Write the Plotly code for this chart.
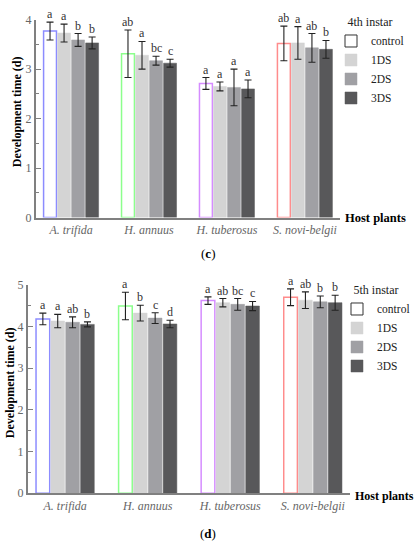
import plotly.graph_objects as go

hosts = ["A. trifida", "H. annuus", "H. tuberosus", "S. novi-belgii"]
treatments = ["control", "1DS", "2DS", "3DS"]

# (c) 4th instar
c_means = {
    "control": [3.77, 3.31, 2.71, 3.52],
    "1DS": [3.73, 3.28, 2.65, 3.53],
    "2DS": [3.59, 3.17, 2.63, 3.43],
    "3DS": [3.53, 3.12, 2.60, 3.40],
}
c_errs = {
    "control": [0.18, 0.48, 0.12, 0.35],
    "1DS": [0.18, 0.28, 0.09, 0.33],
    "2DS": [0.13, 0.09, 0.37, 0.29],
    "3DS": [0.12, 0.08, 0.18, 0.18],
}
c_letters = {
    "control": ["a", "ab", "a", "ab"],
    "1DS": ["a", "a", "a", "a"],
    "2DS": ["b", "bc", "a", "ab"],
    "3DS": ["b", "c", "a", "b"],
}

# (d) 5th instar
d_means = {
    "control": [4.18, 4.49, 4.62, 4.70],
    "1DS": [4.13, 4.32, 4.57, 4.63],
    "2DS": [4.10, 4.20, 4.53, 4.59],
    "3DS": [4.05, 4.06, 4.49, 4.57],
}
d_errs = {
    "control": [0.14, 0.33, 0.09, 0.20],
    "1DS": [0.16, 0.19, 0.10, 0.20],
    "2DS": [0.13, 0.13, 0.14, 0.14],
    "3DS": [0.06, 0.09, 0.11, 0.18],
}
d_letters = {
    "control": ["a", "a", "a", "a"],
    "1DS": ["a", "b", "ab", "ab"],
    "2DS": ["ab", "c", "bc", "b"],
    "3DS": ["b", "d", "c", "b"],
}

fills = {"control": "white", "1DS": "#d4d4d4", "2DS": "#a0a0a4", "3DS": "#58585a"}
control_outline = ["#8c8cff", "#8cff8c", "#d58cff", "#ff8c8c"]
SERIF = "Liberation Serif"
GRAY = "#808080"
BARGAP = 0.28
GROUPGAP = 0.08

fig = go.Figure()
xs = list(range(len(hosts)))

def add_panel(means, errs, letters, xa, ya, legend):
    for k, t in enumerate(treatments):
        if t == "control":
            line = dict(color=control_outline, width=1.5)
        else:
            line = dict(color=fills[t], width=0.5)
        fig.add_trace(go.Bar(
            x=xs, y=means[t], name=t, xaxis=xa, yaxis=ya, legend=legend,
            offsetgroup=t,
            marker=dict(color=fills[t], line=line),
            error_y=dict(type="data", array=errs[t], color="#222222",
                         thickness=1.1, width=3.5),
            showlegend=(t != "control"),
            legendrank=k + 1,
        ))
        if t == "control":
            # legend swatch for control (white box, dark outline)
            fig.add_trace(go.Bar(
                x=[None], y=[None], name=t, xaxis=xa, yaxis=ya, legend=legend,
                offsetgroup=t,
                marker=dict(color="white", line=dict(color="#333333", width=1)),
                showlegend=True, hoverinfo="skip", legendrank=0,
            ))
        slot = (1 - BARGAP) / len(treatments)
        off = -(1 - BARGAP) / 2 + slot * (k + 0.5)
        for i in xs:
            fig.add_annotation(
                x=i + off, y=means[t][i] + errs[t][i], xref=xa, yref=ya,
                text=letters[t][i], showarrow=False, yanchor="bottom",
                yshift=-1, font=dict(family=SERIF, size=12, color="#333333"),
            )

add_panel(c_means, c_errs, c_letters, "x", "y", "legend")
add_panel(d_means, d_errs, d_letters, "x2", "y2", "legend2")

W, H = 416, 550
def px(x):
    return x / W
def py(y):
    return 1 - y / H

xcommon = dict(
    range=[-0.45, 3.45], tickmode="array", tickvals=xs,
    ticktext=["<i>%s</i>" % h for h in hosts], ticks="",
    showline=True, linecolor=GRAY, linewidth=2, showgrid=False, zeroline=False,
    tickfont=dict(family=SERIF, size=12, color="#666666"),
)
ycommon = dict(
    ticks="inside", ticklen=5, tickwidth=1.2, tickcolor=GRAY,
    showline=True, linecolor=GRAY, linewidth=2, showgrid=False, zeroline=False,
    tickfont=dict(family=SERIF, size=12, color="#666666"),
    minor=dict(ticks="inside", ticklen=3, dtick=0.5, tickcolor=GRAY, showgrid=False),
)

legfont = dict(family=SERIF, size=11.5, color="#222")
fig.update_layout(
    width=W, height=H, margin=dict(l=0, r=0, t=0, b=0),
    plot_bgcolor="white", paper_bgcolor="white",
    barmode="group", bargap=BARGAP, bargroupgap=GROUPGAP,
    xaxis=dict(domain=[px(36), px(340)], anchor="y", **xcommon),
    yaxis=dict(domain=[py(216), py(13)], range=[0, 4], dtick=1, anchor="x", **ycommon),
    xaxis2=dict(domain=[px(28), px(350)], anchor="y2", **xcommon),
    yaxis2=dict(domain=[py(499), py(285)], range=[0, 5], dtick=1, anchor="x2", **ycommon),
    legend=dict(x=px(331), y=py(4), xanchor="left", yanchor="top",
                title=dict(text="4th instar", side="top center",
                           font=dict(family=SERIF, size=12, color="#222")),
                font=legfont, bgcolor="rgba(0,0,0,0)", itemwidth=30, tracegroupgap=0,
                traceorder="normal"),
    legend2=dict(x=px(337), y=py(279), xanchor="left", yanchor="top",
                 title=dict(text="5th instar", side="top center",
                            font=dict(family=SERIF, size=12, color="#222")),
                 font=legfont, bgcolor="rgba(0,0,0,0)", itemwidth=30, tracegroupgap=0,
                 traceorder="normal"),
    showlegend=True,
)

def ann(x, y, text, size, anchor="center", angle=0):
    fig.add_annotation(x=px(x), y=py(y), xref="paper", yref="paper", text=text,
                       showarrow=False, xanchor=anchor, yanchor="middle", textangle=angle,
                       font=dict(family=SERIF, size=size, color="black"))

ann(17, 108, "<b>Development time (d)</b>", 12, angle=-90)
ann(10, 386, "<b>Development time (d)</b>", 12, angle=-90)
ann(343, 217, "<b>Host plants</b>", 12.5, anchor="left")
ann(353, 502, "<b>Host plants</b>", 12, anchor="left")
ann(208, 253, "(<b>c</b>)", 13)
ann(208, 540, "(<b>d</b>)", 13)

fig.write_html("out.html", config={"displayModeBar": False},
               post_script="document.body.style.margin='0px';")
